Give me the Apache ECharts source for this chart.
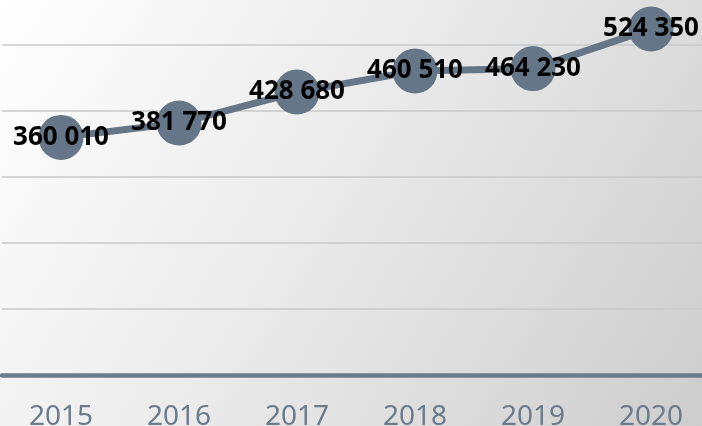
<!DOCTYPE html>
<html>
<head>
<meta charset="utf-8">
<script src="https://cdn.jsdelivr.net/npm/echarts@6/dist/echarts.min.js"></script>
<style>
  html, body { margin: 0; padding: 0; }
  #chart { width: 702px; height: 426px; }
</style>
</head>
<body>
<div id="chart"></div>
<script>
const years = ["2015", "2016", "2017", "2018", "2019", "2020"];
const values = [360010, 381770, 428680, 460510, 464230, 524350];

const slate = "#647687";

// "360 010" style: space as thousands separator
function spaced(v) {
    return String(v).replace(/\B(?=(\d{3})+(?!\d))/g, " ");
}

const chart = echarts.init(document.getElementById("chart"), null, { renderer: "canvas" });

chart.setOption({
    backgroundColor: {
        type: "linear", x: 0, y: 0, x2: 1, y2: 1,
        colorStops: [
            { offset: 0, color: "#ffffff" },
            { offset: 0.45, color: "#ebebeb" },
            { offset: 1, color: "#cdcdcd" },
        ],
    },
    // plot runs past the canvas top and right edge, like the cropped original
    grid: { left: 2, right: -8, top: -21, bottom: 51, outerBoundsMode: "none" },
    xAxis: {
        type: "category",
        data: years,
        boundaryGap: true,
        axisLine: { lineStyle: { color: "#6b7b8c", width: 4.5 } },
        axisTick: { show: false },
        axisLabel: {
            color: "#6b7b8c",
            fontFamily: "Noto Sans",
            fontSize: 28,
            margin: 28,
        },
    },
    yAxis: {
        type: "value",
        min: 0,
        max: 600000,
        interval: 100000,
        axisLabel: { show: false },
        axisLine: { show: false },
        axisTick: { show: false },
        splitLine: { lineStyle: { color: "#c6c8ca", width: 1.5 } },
    },
    series: [{
        type: "line",
        data: values,
        symbol: "circle",
        symbolSize: 45,
        itemStyle: { color: slate },
        lineStyle: { color: slate, width: 7 },
        label: {
            show: true,
            position: "inside",
            color: "#000",
            fontFamily: "Noto Sans",
            fontWeight: "bold",
            fontSize: 26,
            formatter: p => spaced(p.value),
        },
        emphasis: { disabled: true },
        animation: false,
    }],
});
</script>
</body>
</html>
